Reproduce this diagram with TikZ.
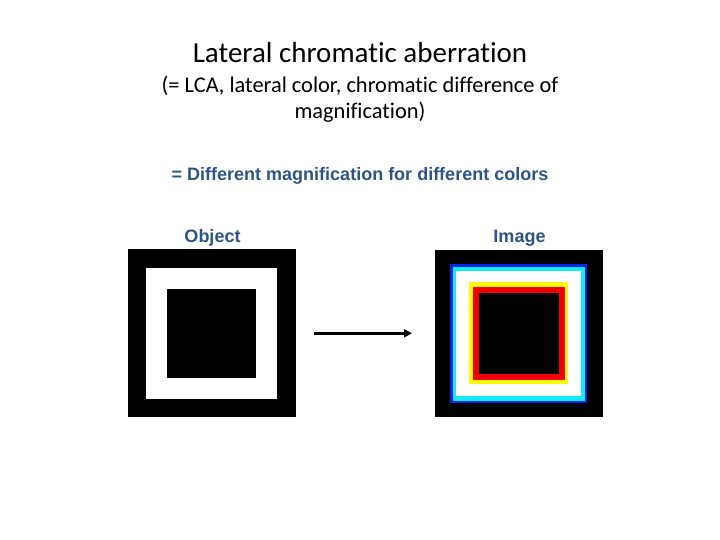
\documentclass[tikz,border=0pt]{standalone}
\usepackage{fontspec}
\setmainfont{Carlito}[Ligatures=NoCommon]
\newfontfamily\arialfont{Liberation Sans}
\usetikzlibrary{arrows.meta}
\definecolor{txtblue}{RGB}{46,84,135}
\definecolor{lcablue}{RGB}{0,40,230}
\definecolor{lcacyan}{RGB}{20,235,255}
\definecolor{lcared}{RGB}{240,0,0}
\definecolor{lcayellow}{RGB}{255,250,0}
\begin{document}
\begin{tikzpicture}[x=1pt,y=-1pt,
  lbl/.style={font=\arialfont\bfseries\fontsize{18}{21}\selectfont, text=txtblue, inner sep=0pt},
  subt/.style={font=\fontsize{22.4}{26}\selectfont, inner sep=0pt, anchor=base}]
\useasboundingbox (0,0) rectangle (720,540);
\node[inner sep=0pt, anchor=base, font=\fontsize{29}{34}\selectfont] (title) at (360,63) {Lateral chromatic aberration};
\node[subt] (sub1) at (360,92.5) {(= LCA, lateral color, chromatic difference of};
\node[subt] (sub2) at (360,119) {magnification)};
\node[lbl, anchor=base] (def) at (360,181) {= Different magnification for different colors};
\node[lbl, anchor=base] (objl) at (212.5,242) {Object};
\node[lbl, anchor=base] (imgl) at (519.5,242) {Image};
% object
\fill[black] (128,249) rectangle (296,416.5);
\fill[white] (146,268) rectangle (277.3,399);
\fill[black] (166.7,288.7) rectangle (256,377.7);
% image
\fill[black] (435,250) rectangle (603,416.5);
\fill[lcablue] (450,264) rectangle (586.7,403.3);
\fill[lcacyan] (452.5,266.7) rectangle (584.5,400.7);
\fill[white] (456,271) rectangle (581.3,396);
\fill[lcayellow] (469,282.3) rectangle (568.3,384);
\fill[lcared] (472.7,286.7) rectangle (565,380);
\fill[black] (479,293.3) rectangle (558.7,374);
\coordinate (a1) at (314,333.3);
\coordinate (a2) at (412,333.3);
\draw[line width=2.4pt, -{Triangle[length=8pt,width=8pt]}] (a1) -- (a2);
\end{tikzpicture}
\end{document}
